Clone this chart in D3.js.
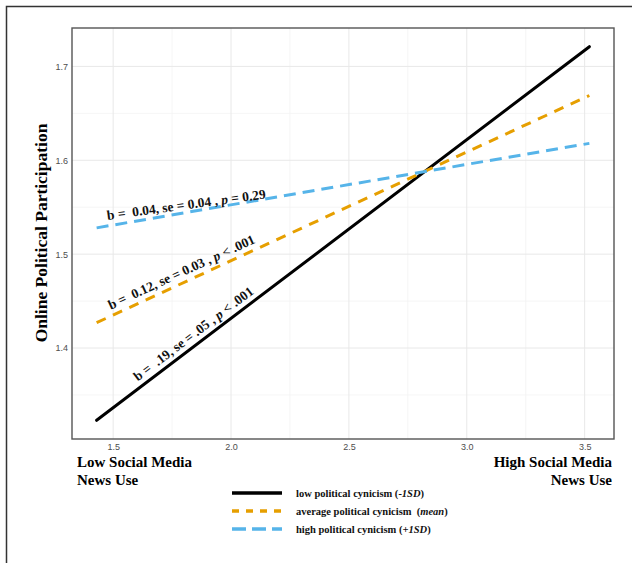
<!DOCTYPE html>
<html>
<head>
<meta charset="utf-8">
<script src="https://cdn.jsdelivr.net/npm/d3@7"></script>
<style>
  body { margin: 0; background: #fff; }
  svg text { white-space: pre; }
</style>
</head>
<body>
<svg id="chart" width="632" height="563"></svg>
<script>
// values
const xValues = [1.43, 3.52];
const lowCynicism = [1.323, 1.721];
const avgCynicism = [1.427, 1.669];
const highCynicism = [1.528, 1.618];
const seriesNames = ['low', 'average', 'high'];
const xTicks = [1.5, 2.0, 2.5, 3.0, 3.5];
const yTicks = [1.4, 1.5, 1.6, 1.7];
const xMinor = [1.75, 2.25, 2.75, 3.25];
const yMinor = [1.35, 1.45, 1.55, 1.65];
const slopeLabels = [
  ['b =  .19, se = .05 , ', 'p', ' < .001'],
  ['b =  0.12, se = 0.03 , ', 'p', ' < .001'],
  ['b =  0.04, se = 0.04 , ', 'p', ' = 0.29']
];
const legendLabels = [
  ['low political cynicism (', '-1SD', ')'],
  ['average political cynicism  (', 'mean', ')'],
  ['high political cynicism (', '+1SD', ')']
];

const serif = '"Liberation Serif", "Times New Roman", serif';
const sans = '"Liberation Sans", Arial, sans-serif';

const series = [
  { name: seriesNames[0], values: lowCynicism, color: '#000000', dash: null, legendDash: null },
  { name: seriesNames[1], values: avgCynicism, color: '#E69F00', dash: '10,8', legendDash: '7,7' },
  { name: seriesNames[2], values: highCynicism, color: '#56B4E9', dash: '12,7', legendDash: '14,6' }
];

const svg = d3.select('#chart');
const panel = { left: 72, right: 614, top: 28, bottom: 439 };

// outer frame (cut off on right and bottom)
svg.append('rect')
  .attr('x', 6.5).attr('y', 6.5)
  .attr('width', 700).attr('height', 700)
  .attr('fill', 'none').attr('stroke', '#333').attr('stroke-width', 1.5);

const allY = lowCynicism.concat(avgCynicism, highCynicism);
const xPad = (d3.max(xValues) - d3.min(xValues)) * 0.05;
const yPad = (d3.max(allY) - d3.min(allY)) * 0.05;

const x = d3.scaleLinear()
  .domain([d3.min(xValues) - xPad, d3.max(xValues) + xPad])
  .range([panel.left, panel.right]);
const y = d3.scaleLinear()
  .domain([d3.min(allY) - yPad, d3.max(allY) + yPad])
  .range([panel.bottom, panel.top]);

// grid
const grid = svg.append('g');
grid.selectAll('.xminor').data(xMinor).join('line')
  .attr('x1', d => x(d)).attr('x2', d => x(d))
  .attr('y1', panel.top).attr('y2', panel.bottom)
  .attr('stroke', '#f3f3f3').attr('stroke-width', 0.8);
grid.selectAll('.yminor').data(yMinor).join('line')
  .attr('y1', d => y(d)).attr('y2', d => y(d))
  .attr('x1', panel.left).attr('x2', panel.right)
  .attr('stroke', '#f3f3f3').attr('stroke-width', 0.8);
grid.selectAll('.xmajor').data(xTicks).join('line')
  .attr('x1', d => x(d)).attr('x2', d => x(d))
  .attr('y1', panel.top).attr('y2', panel.bottom)
  .attr('stroke', '#e8e8e8').attr('stroke-width', 1);
grid.selectAll('.ymajor').data(yTicks).join('line')
  .attr('y1', d => y(d)).attr('y2', d => y(d))
  .attr('x1', panel.left).attr('x2', panel.right)
  .attr('stroke', '#e8e8e8').attr('stroke-width', 1);

// axes
const xAxis = svg.append('g')
  .attr('transform', `translate(0,${panel.bottom})`)
  .call(d3.axisBottom(x).tickValues(xTicks).tickSize(0).tickPadding(5).tickFormat(d3.format('.1f')));
const yAxis = svg.append('g')
  .attr('transform', `translate(${panel.left},0)`)
  .call(d3.axisLeft(y).tickValues(yTicks).tickSize(0).tickPadding(4).tickFormat(d3.format('.1f')));
[xAxis, yAxis].forEach(a => {
  a.select('.domain').remove();
  a.selectAll('text').attr('font-family', sans).attr('font-size', 9).attr('fill', '#4d4d4d');
});

// lines
const line = d3.line().x((d, i) => x(xValues[i])).y(d => y(d));
series.forEach(s => {
  svg.append('path')
    .attr('d', line(s.values))
    .attr('fill', 'none')
    .attr('stroke', s.color)
    .attr('stroke-width', 3)
    .attr('stroke-linecap', s.dash ? 'butt' : 'round')
    .attr('stroke-dasharray', s.dash);
});

// slope annotations
const labelStarts = [1.62, 1.5, 1.48];
series.forEach((s, i) => {
  const v = s.values;
  const px = x(labelStarts[i]);
  const t = (labelStarts[i] - xValues[0]) / (xValues[1] - xValues[0]);
  const py = y(v[0] + t * (v[1] - v[0]));
  let angle = Math.atan2(y(v[1]) - y(v[0]), x(xValues[1]) - x(xValues[0])) * 180 / Math.PI;
  if (i === 2) angle += 2;
  const txt = svg.append('text')
    .attr('transform', `translate(${px},${py}) rotate(${angle})`)
    .attr('y', -6)
    .attr('font-family', serif).attr('font-weight', 'bold').attr('font-size', 13.5)
    .attr('fill', '#111');
  txt.append('tspan').text(slopeLabels[i][0]);
  txt.append('tspan').attr('font-style', 'italic').text(slopeLabels[i][1]);
  txt.append('tspan').text(slopeLabels[i][2]);
});

// panel border
svg.append('rect')
  .attr('x', panel.left).attr('y', panel.top)
  .attr('width', panel.right - panel.left).attr('height', panel.bottom - panel.top)
  .attr('fill', 'none').attr('stroke', '#555').attr('stroke-width', 1.4);

// y title
svg.append('text')
  .attr('transform', 'translate(41,233) rotate(-90)')
  .attr('text-anchor', 'middle').attr('dominant-baseline', 'central')
  .attr('font-family', serif).attr('font-weight', 'bold').attr('font-size', 17.5)
  .text('Online Political Participation');

// x end labels
const endLabel = (tx, anchor, lines) => {
  lines.forEach((l, i) => {
    svg.append('text')
      .attr('x', tx).attr('y', 467 + i * 18)
      .attr('text-anchor', anchor)
      .attr('font-family', serif).attr('font-weight', 'bold').attr('font-size', 15)
      .text(l);
  });
};
endLabel(77, 'start', ['Low Social Media', 'News Use']);
endLabel(612, 'end', ['High Social Media', 'News Use']);

// legend
const legend = svg.append('g').attr('transform', 'translate(232,493)');
series.forEach((s, i) => {
  const g = legend.append('g').attr('transform', `translate(0,${i * 18})`);
  g.append('line')
    .attr('x1', 0).attr('x2', 50)
    .attr('stroke', s.color).attr('stroke-width', 3.6)
    .attr('stroke-dasharray', s.legendDash);
  const t = g.append('text')
    .attr('x', 64).attr('y', 4)
    .attr('font-family', serif).attr('font-weight', 'bold').attr('font-size', 10.5)
    .attr('fill', '#111');
  t.append('tspan').text(legendLabels[i][0]);
  t.append('tspan').attr('font-style', 'italic').text(legendLabels[i][1]);
  t.append('tspan').text(legendLabels[i][2]);
});
</script>
</body>
</html>
